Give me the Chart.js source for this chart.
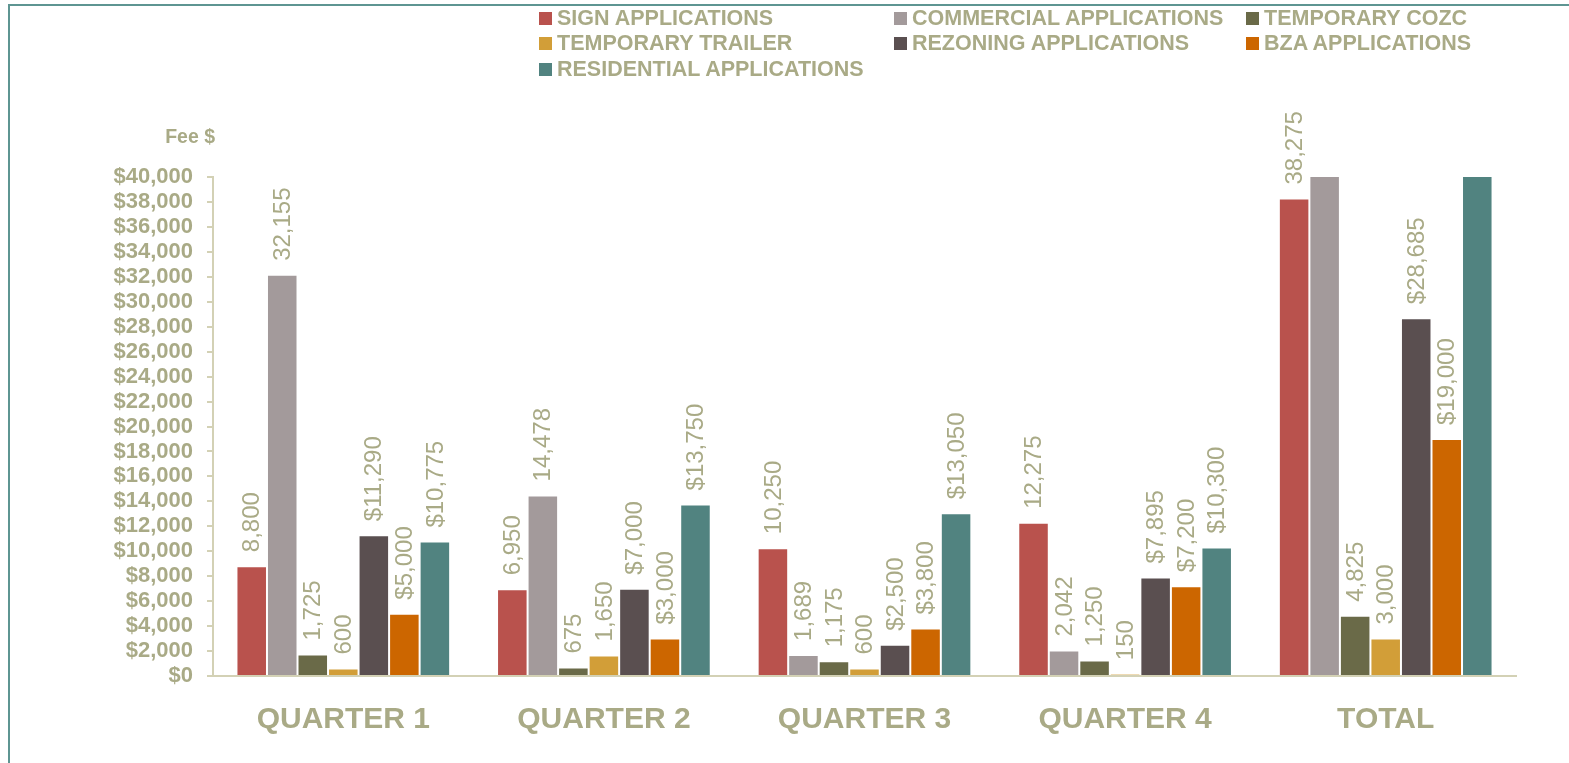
<!DOCTYPE html>
<html>
<head>
<meta charset="utf-8">
<script src="https://cdn.jsdelivr.net/npm/chart.js@4.4.1/dist/chart.umd.min.js"></script>
<style>
  html, body { margin: 0; padding: 0; background: #ffffff; overflow: hidden; }
  #frame {
    position: absolute; left: 8px; top: 4px; width: 1600px; height: 800px;
    border-top: 2px solid #5e9592; border-left: 2px solid #5e9592;
  }
  #wrap { position: absolute; left: 0; top: 0; width: 1569px; height: 763px; }
  #legend {
    position: absolute; left: 539px; top: 6px;
    display: grid; grid-template-columns: 355px 352px auto; grid-auto-rows: 25.3px;
    font-family: 'Liberation Sans', Arial, sans-serif; font-weight: bold; font-size: 21.5px;
    color: #a9aa86;
  }
  .item { display: flex; align-items: center; white-space: nowrap; }
  .swatch { width: 13px; height: 13px; margin-right: 5px; flex: none; }
</style>
</head>
<body>
<div id="frame"></div>
<div id="wrap"><canvas id="feeChart"></canvas></div>
<div id="legend"></div>
<script>
// categories and series
const categories = ['QUARTER 1', 'QUARTER 2', 'QUARTER 3', 'QUARTER 4', 'TOTAL'];
const signApps = [8800, 6950, 10250, 12275, 38275];
const commercialApps = [32155, 14478, 1689, 2042, 50364];
const temporaryCozc = [1725, 675, 1175, 1250, 4825];
const temporaryTrailer = [600, 1650, 600, 150, 3000];
const rezoningApps = [11290, 7000, 2500, 7895, 28685];
const bzaApps = [5000, 3000, 3800, 7200, 19000];
const residentialApps = [10775, 13750, 13050, 10300, 47875];
const yTicksMax = 40000;
const yTicksStep = 2000;

const textColor = '#a9aa86';
const axisColor = '#d3d1b5';

const series = [
  { label: 'SIGN APPLICATIONS', data: signApps, color: '#b9524d', prefix: '' },
  { label: 'COMMERCIAL APPLICATIONS', data: commercialApps, color: '#a39a9b', prefix: '' },
  { label: 'TEMPORARY COZC', data: temporaryCozc, color: '#6a6a48', prefix: '' },
  { label: 'TEMPORARY TRAILER', data: temporaryTrailer, color: '#d29e38', prefix: '' },
  { label: 'REZONING APPLICATIONS', data: rezoningApps, color: '#5a4f50', prefix: '$' },
  { label: 'BZA APPLICATIONS', data: bzaApps, color: '#cc6600', prefix: '$' },
  { label: 'RESIDENTIAL APPLICATIONS', data: residentialApps, color: '#518380', prefix: '$' },
];

// legend in 3 columns like the original
const legendEl = document.getElementById('legend');
series.forEach(s => {
  const it = document.createElement('div');
  it.className = 'item';
  it.innerHTML = '<span class="swatch" style="background:' + s.color + '"></span>' + s.label;
  legendEl.appendChild(it);
});

// rotated value labels above bars + axis title
const valueLabels = {
  id: 'valueLabels',
  afterDatasetsDraw(chart) {
    const ctx = chart.ctx;
    const yMax = chart.scales.y.max;
    ctx.save();
    ctx.font = '24px "Liberation Sans", Arial, sans-serif';
    ctx.fillStyle = textColor;
    ctx.textAlign = 'left';
    ctx.textBaseline = 'middle';
    chart.data.datasets.forEach((ds, i) => {
      const meta = chart.getDatasetMeta(i);
      meta.data.forEach((bar, j) => {
        const v = ds.data[j];
        if (v > yMax) return; // label falls outside the plot
        const txt = series[i].prefix + v.toLocaleString('en-US');
        ctx.save();
        ctx.translate(bar.x, bar.y - 14);
        ctx.rotate(-Math.PI / 2);
        ctx.fillText(txt, 0, 1);
        ctx.restore();
      });
    });
    // "Fee $" title
    ctx.font = 'bold 19.5px "Liberation Sans", Arial, sans-serif';
    ctx.textAlign = 'right';
    ctx.fillText('Fee $', chart.chartArea.left + 2, chart.chartArea.top - 39);
    ctx.restore();
  }
};

new Chart(document.getElementById('feeChart'), {
  type: 'bar',
  data: {
    labels: categories,
    datasets: series.map(s => ({
      label: s.label,
      data: s.data,
      backgroundColor: s.color,
      borderColor: 'rgba(255,255,255,0.55)',
      borderWidth: 1,
      categoryPercentage: 0.82,
      barPercentage: 1.0,
    })),
  },
  options: {
    responsive: true,
    maintainAspectRatio: false,
    animation: false,
    layout: { padding: { top: 177, right: 53, left: 0, bottom: 0 } },
    plugins: {
      legend: { display: false },
      tooltip: { enabled: false },
    },
    scales: {
      x: {
        afterFit: (scale) => { scale.height = 87; },
        grid: { display: false, drawTicks: false },
        border: { display: true, color: axisColor, width: 2 },
        ticks: {
          color: textColor,
          padding: 26,
          font: { family: 'Liberation Sans', size: 30, weight: 'bold' },
        },
      },
      y: {
        min: 0,
        max: yTicksMax,
        afterFit: (scale) => { scale.width = 213; },
        grid: { drawOnChartArea: false, drawTicks: true, tickLength: 6, color: axisColor, lineWidth: 2 },
        border: { display: true, color: axisColor, width: 2 },
        ticks: {
          stepSize: yTicksStep,
          autoSkip: false,
          color: textColor,
          padding: 14,
          font: { family: 'Liberation Sans', size: 22, weight: 'bold' },
          callback: (v) => '$' + v.toLocaleString('en-US'),
        },
      },
    },
  },
  plugins: [valueLabels],
});
</script>
</body>
</html>
